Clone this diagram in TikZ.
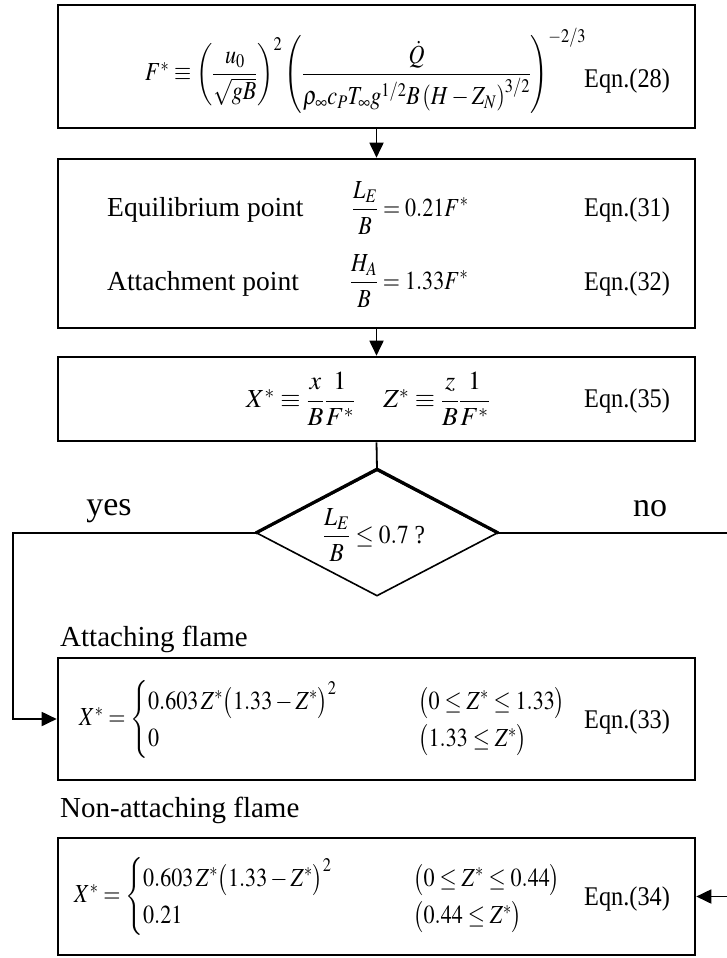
\documentclass[tikz,border=0pt]{standalone}
\usepackage{amsmath}
\usepackage{graphicx}
\usepackage{mathptmx}
\usepackage{fontspec}
\setmainfont{Liberation Serif}
\usetikzlibrary{arrows.meta,shapes.geometric}
\newcommand\eqlab[1]{\scalebox{0.9}[1]{#1}}
\newcommand\sqz[2]{\scalebox{#1}[1]{#2}}
\tikzset{
  box/.style={draw, line width=2.6pt, minimum width=637pt, inner sep=0pt},
  conn/.style={line width=1.8pt},
  arr/.style={conn, -{Triangle[length=15pt,width=14pt]}},
  txt/.style={inner sep=0pt, font=\fontsize{27.5}{33}\selectfont},
  lab/.style={inner sep=0pt, font=\fontsize{29}{35}\selectfont},
  yn/.style={inner sep=0pt, font=\fontsize{34}{40}\selectfont},
  eqn/.style={inner sep=0pt, font=\fontsize{27}{32}\selectfont},
  mth/.style={inner sep=0pt, font=\fontsize{26}{31}\selectfont},
  dia/.style={draw, diamond, line width=1.6pt, minimum width=241pt, minimum height=126pt, inner sep=0pt},
}
\begin{document}
\begin{tikzpicture}[x=1pt,y=-1pt]
\useasboundingbox (0,0) rectangle (727,958);
% boxes
\node[box, minimum height=123pt] (b1) at (376.5,66.5) {};
\node[box, minimum height=169pt] (b2) at (376.5,243.5) {};
\node[box, minimum height=84pt] (b3) at (376.5,399) {};
\node[dia] (d) at (377,533) {};
\node[box, minimum height=122pt] (b4) at (376.5,719) {};
\node[box, minimum height=117pt] (b5) at (376.5,896.5) {};
\draw[line width=3.2pt, line join=miter] (d.west) -- (d.north) -- (d.east);
% box 1
\node[mth, anchor=west] (e28) at (145,71) {\sqz{0.85}{$F^{*}\equiv\left(\dfrac{u_{0}}{\sqrt{gB}}\right)^{2}\left(\dfrac{\dot{Q}}{\rho_{\infty}c_{P}T_{\infty}g^{1/2}B\left(H-Z_{N}\right)^{3/2}}\right)^{-2/3}$}};
\node[eqn, anchor=base west] (l28) at (584,88) {\eqlab{Eqn.(28)}};
% box 2
\node[txt, anchor=base west] (eqp) at (107,216) {Equilibrium point};
\node[mth, anchor=west] (e31) at (352,208) {\sqz{0.85}{$\dfrac{L_{E}}{B}=0.21F^{*}$}};
\node[eqn, anchor=base west] (l31) at (584,216) {\eqlab{Eqn.(31)}};
\node[txt, anchor=base west] (atp) at (107,290) {Attachment point};
\node[mth, anchor=west] (e32) at (350,281) {\sqz{0.85}{$\dfrac{H_{A}}{B}=1.33F^{*}$}};
\node[eqn, anchor=base west] (l32) at (584,290) {\eqlab{Eqn.(32)}};
% box 3
\node[mth, anchor=west] (e35) at (246,399) {$X^{*}\equiv\dfrac{x}{B}\dfrac{1}{F^{*}}\hspace{28pt}Z^{*}\equiv\dfrac{z}{B}\dfrac{1}{F^{*}}$};
\node[eqn, anchor=base west] (l35) at (584,407) {\eqlab{Eqn.(35)}};
% diamond text
\node[mth] (dq) at (374,535) {\sqz{0.9}{$\dfrac{L_{E}}{B}\le 0.7$ ?}};
\node[yn, anchor=base] (yes) at (109,515) {yes};
\node[yn, anchor=base] (no) at (650,516) {no};
% labels
\node[lab, anchor=base west] (att) at (60,646) {Attaching flame};
\node[lab, anchor=base west] (nat) at (60,817) {Non-attaching flame};
% box 4
\node[mth, anchor=west] (e33) at (79,719) {\sqz{0.85}{$X^{*}=\left\{\begin{array}{@{}l@{}l}\makebox[318pt][l]{$0.603\,Z^{*}\bigl(1.33-Z^{*}\bigr)^{2}$} & \bigl(0\le Z^{*}\le 1.33\bigr)\\[6pt] 0 & \bigl(1.33\le Z^{*}\bigr)\end{array}\right.$}};
\node[eqn, anchor=base west] (l33) at (584,728) {\eqlab{Eqn.(33)}};
% box 5
\node[mth, anchor=west] (e34) at (74,896) {\sqz{0.85}{$X^{*}=\left\{\begin{array}{@{}l@{}l}\makebox[318pt][l]{$0.603\,Z^{*}\bigl(1.33-Z^{*}\bigr)^{2}$} & \bigl(0\le Z^{*}\le 0.44\bigr)\\[6pt] 0.21 & \bigl(0.44\le Z^{*}\bigr)\end{array}\right.$}};
\node[eqn, anchor=base west] (l34) at (584,905) {\eqlab{Eqn.(34)}};
% connectors
\coordinate (yl) at (13,533);
\coordinate (nr) at (730,533);
\draw[arr] (b1.south) -- (b2.north);
\draw[arr] (b2.south) -- (b3.north);
\draw[conn] (b3.south) -- (d.north);
\draw[arr] (d.west) -- (yl) |- (b4.west);
\draw[arr] (d.east) -- (nr) |- (b5.east);
\end{tikzpicture}
\end{document}
